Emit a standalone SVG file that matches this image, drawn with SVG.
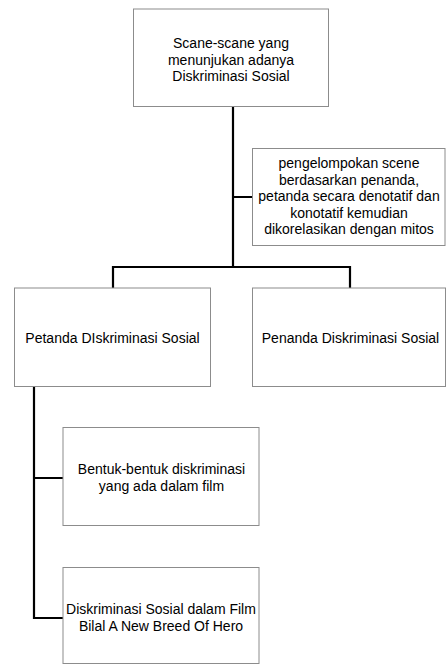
<svg xmlns="http://www.w3.org/2000/svg" width="446" height="664" viewBox="0 0 446 664">
<style>
.box{fill:#fff;stroke:#8c8c8c;stroke-width:1}
.t{font-family:"Liberation Sans",Arial,sans-serif;font-size:14px;fill:#000;text-anchor:middle}
.c{fill:none;stroke:#000;stroke-width:2.2}
</style>
<rect width="446" height="664" fill="#fff"/>
<g id="connectors">
<path class="c" d="M233 107V267M233 197H253M113 267H350M113 266V288M350 266V288M34 387V618H63M34 478H63"/>
</g>
<g id="n1">
<rect class="box" x="133.5" y="9" width="195" height="97.5"/>
<text class="t" x="231" y="48">Scane-scane yang</text>
<text class="t" x="231" y="64.5">menunjukan adanya</text>
<text class="t" x="231" y="80.5">Diskriminasi Sosial</text>
</g>
<g id="n2">
<rect class="box" x="252.5" y="148.5" width="192.5" height="97"/>
<text class="t" x="349" y="168">pengelompokan scene</text>
<text class="t" x="349" y="184.5">berdasarkan penanda,</text>
<text class="t" x="349" y="201">petanda secara denotatif dan</text>
<text class="t" x="349" y="217.5">konotatif kemudian</text>
<text class="t" x="349" y="234">dikorelasikan dengan mitos</text>
</g>
<g id="n3">
<rect class="box" x="14.5" y="288" width="196" height="98.5"/>
<text class="t" x="112.5" y="342.5">Petanda DIskriminasi Sosial</text>
</g>
<g id="n4">
<rect class="box" x="252.5" y="288" width="193" height="98.5"/>
<text class="t" x="350.5" y="342.5">Penanda Diskriminasi Sosial</text>
</g>
<g id="n5">
<rect class="box" x="63" y="427.5" width="196" height="98"/>
<text class="t" x="161.5" y="474">Bentuk-bentuk diskriminasi</text>
<text class="t" x="161.5" y="491">yang ada dalam film</text>
</g>
<g id="n6">
<rect class="box" x="63" y="567.5" width="196" height="96"/>
<text class="t" x="161" y="613.5">Diskriminasi Sosial dalam Film</text>
<text class="t" x="161" y="630.5">Bilal A New Breed Of Hero</text>
</g>
</svg>
